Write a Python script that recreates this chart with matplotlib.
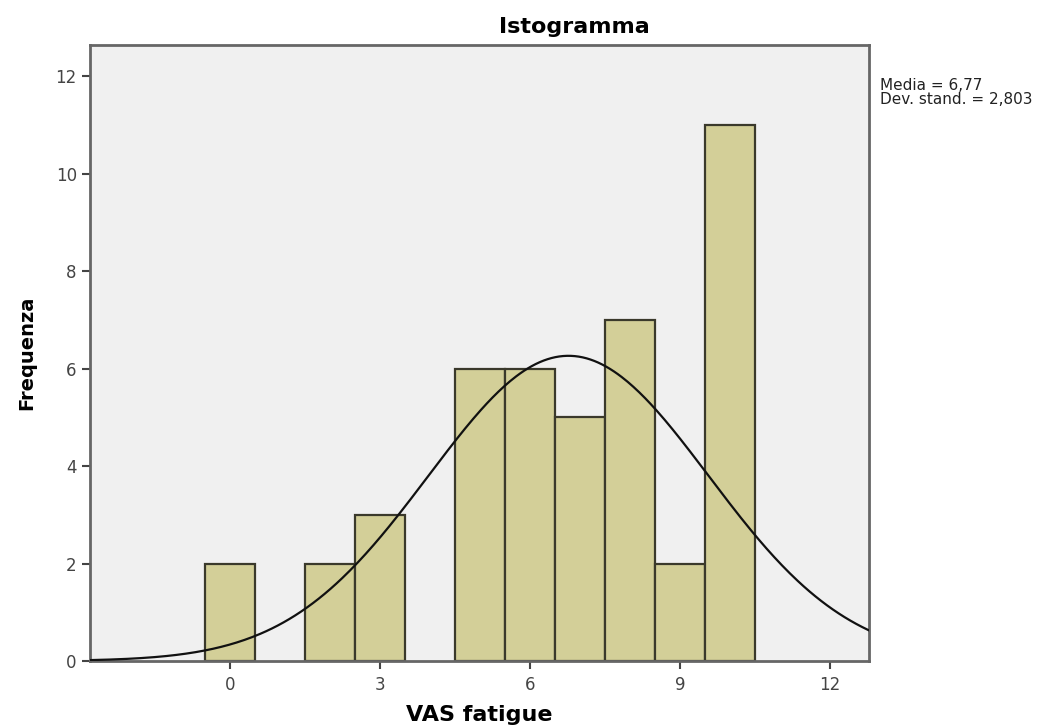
import numpy as np
import matplotlib.pyplot as plt

plt.rcParams['font.family'] = ['DejaVu Sans']

# VAS fatigue scores and their frequencies
scores = [0, 2, 3, 5, 6, 7, 8, 9, 10]
counts = [2, 2, 3, 6, 6, 5, 7, 2, 11]
mean_val = 6.77
sd_val = 2.803

fig = plt.figure(figsize=(10.63, 7.28), dpi=100)
ax = fig.add_axes([90/1063, 67/728, 779/1063, 616/728])
ax.set_facecolor('#f0f0f0')

ax.bar(scores, counts, width=1.0, color='#d3cf98', edgecolor='#3a392b', linewidth=1.6, zorder=2)

# normal curve scaled to counts
n = sum(counts)
x = np.linspace(-2.8, 12.8, 400)
y = n * 1.0 / (sd_val * np.sqrt(2 * np.pi)) * np.exp(-0.5 * ((x - mean_val) / sd_val) ** 2)
ax.plot(x, y, color='#111111', linewidth=1.6, zorder=3)

ax.set_xlim(-2.8, 12.78)
ax.set_ylim(0, 12.64)
ax.set_xticks([0, 3, 6, 9, 12])
ax.set_yticks([0, 2, 4, 6, 8, 10, 12])
ax.tick_params(axis='both', labelsize=12, colors='#444444', length=6, width=1.5)
ax.tick_params(axis='x', pad=5)
for s in ax.spines.values():
    s.set_color('#666666')
    s.set_linewidth(2)

fig.text(574/1063, 1 - 27/728, 'Istogramma', ha='center', va='center', fontsize=16, fontweight='bold')
ax.set_xlabel('VAS fatigue', fontsize=16, fontweight='bold', labelpad=8)
ax.set_ylabel('Frequenza', fontsize=14, fontweight='bold', labelpad=14)

fig.text(880/1063, 1 - 85/728, 'Media = 6,77', fontsize=11, va='center', color='#222222')
fig.text(880/1063, 1 - 100/728, 'Dev. stand. = 2,803', fontsize=11, va='center', color='#222222')

fig.savefig('out.png', dpi=100)
